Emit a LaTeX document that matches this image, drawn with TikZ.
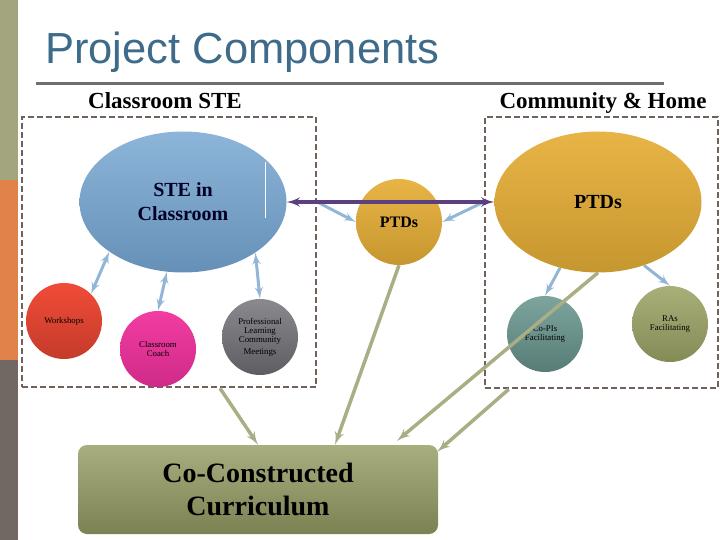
\documentclass[tikz,border=0pt]{standalone}
\usepackage{fontspec}
\setmainfont{Liberation Serif}
\newfontfamily\titlefont{Liberation Sans}
\usepackage{tikz}
\usetikzlibrary{arrows}
\usetikzlibrary{shapes.geometric}
\definecolor{titleblue}{HTML}{3E6B8A}
\definecolor{barolive}{HTML}{A3A57E}
\definecolor{barorange}{HTML}{E0824A}
\definecolor{bargray}{HTML}{716763}
\definecolor{rulegray}{HTML}{6F6F6F}
\definecolor{boxgray}{HTML}{6E625A}
\definecolor{linkblue}{HTML}{93B6D6}
\definecolor{bridgepurple}{HTML}{5C3F7E}
\definecolor{feedolive}{HTML}{A9AE84}
\definecolor{steintop}{HTML}{8DB5DA}
\definecolor{steinbot}{HTML}{6690B7}
\definecolor{goldtop}{HTML}{E8B446}
\definecolor{goldbot}{HTML}{C6972F}
\definecolor{worktop}{HTML}{F04C38}
\definecolor{workbot}{HTML}{C53B2A}
\definecolor{coachtop}{HTML}{F23CA2}
\definecolor{coachbot}{HTML}{CF2B88}
\definecolor{plctop}{HTML}{8A898F}
\definecolor{plcbot}{HTML}{5E5D62}
\definecolor{copistop}{HTML}{7CA59E}
\definecolor{copisbot}{HTML}{587C76}
\definecolor{rastop}{HTML}{A9AF78}
\definecolor{rasbot}{HTML}{848B57}
\definecolor{currtop}{HTML}{A8AE7E}
\definecolor{currbot}{HTML}{7B8152}
\tikzset{
 bubble/.style={circle, inner sep=0, minimum size=76pt, align=center, text=black,
   font=\fontsize{8.8}{9}\selectfont},
 bigoval/.style={ellipse, inner sep=0, minimum width=207pt, minimum height=141pt, align=center},
 groupbox/.style={draw=boxgray, line width=2.5pt, dash pattern=on 6pt off 3pt, inner sep=0},
 grouplabel/.style={font=\bfseries\fontsize{23}{26}\selectfont},
 link/.style={draw=linkblue, line width=3pt, >=latex'},
 feed/.style={draw=feedolive, line width=3.5pt, ->, >=latex'},
}

\begin{document}
\begin{tikzpicture}[x=1pt, y=-1pt]
\useasboundingbox (0,0) rectangle (720,540);
% side bar
\fill[barolive] (0,0) rectangle (18,180);
\fill[barorange] (0,180) rectangle (18,360);
\fill[bargray] (0,360) rectangle (18,540);
% title
\node[anchor=base west, inner sep=0, text=titleblue, font=\titlefont\fontsize{43.5}{48}\selectfont] (title) at (45,64) {Project Components};
\draw[rulegray, line width=3pt] (36,84) -- (664,84);

% the two groups
\node[groupbox, minimum width=294pt, minimum height=270pt] (clsbox) at (169,252) {};
\node[groupbox, minimum width=233pt, minimum height=271pt] (combox) at (601.5,252.5) {};
\node[grouplabel] (clslabel) at (165,101) {Classroom STE};
\node[grouplabel] (comlabel) at (603,103) {Community \& Home};

\node[bigoval, top color=steintop, bottom color=steinbot, text=black!85!blue,
  font=\bfseries\fontsize{20}{24}\selectfont] (stein) at (183,202) {STE in\\Classroom};
\draw[white, line width=1pt] (265,162) -- (265,218);
\node[bigoval, top color=goldtop, bottom color=goldbot,
  font=\bfseries\fontsize{20}{24}\selectfont] (ptdbig) at (598,202) {PTDs};
\node[circle, inner sep=0, minimum size=86pt, top color=goldtop, bottom color=goldbot,
  font=\bfseries\fontsize{16}{18}\selectfont] (ptdmid) at (399,222) {PTDs};

\node[bubble, top color=worktop, bottom color=workbot] (work) at (64,321) {Workshops};
\node[bubble, top color=coachtop, bottom color=coachbot] (coach) at (158,349) {Classroom\\Coach};
\node[bubble, top color=plctop, bottom color=plcbot] (plc) at (260,337) {Professional\\Learning\\Community\\[3pt]Meetings};
\node[bubble, top color=copistop, bottom color=copisbot] (copis) at (545,334) {Co-PIs\\Facilitating};
\node[bubble, top color=rastop, bottom color=rasbot] (ras) at (670,324) {RAs\\Facilitating};

\node[rounded corners=9pt, minimum width=360pt, minimum height=89pt, inner sep=0,
  top color=currtop, bottom color=currbot, align=center,
  font=\bfseries\fontsize{28}{33}\selectfont] (curr) at (258,489.5) {Co-Constructed\\Curriculum};

% links inside the groups
\draw[link, <->] (stein.214) -- (work.45);
\draw[link, <->] (stein.257) -- (coach.north);
\draw[link, <->] (stein.325) -- (plc.north);
\draw[link, ->] (ptdbig.240) -- (copis.north);
\draw[link, ->] (ptdbig.306) -- (ras.north);
\draw[link, ->] (clsbox.east |- stein.center) -- (ptdmid.west);
\draw[link, ->] (combox.west |- ptdbig.center) -- (ptdmid.east);
\draw[bridgepurple, line width=3.5pt, <->, >=latex'] (stein.east) -- (ptdbig.west);

% into the curriculum
\draw[feed] ([xshift=51pt]clsbox.south) -- (curr.north);
\draw[feed] (ptdmid.south) -- ([xshift=77pt]curr.north);
\draw[feed] (ptdbig.south) -- ([xshift=139pt, yshift=4pt]curr.north);
\draw[feed] ([xshift=25pt]combox.south west) -- ([xshift=-1pt, yshift=-7pt]curr.north east);
\end{tikzpicture}
\end{document}
